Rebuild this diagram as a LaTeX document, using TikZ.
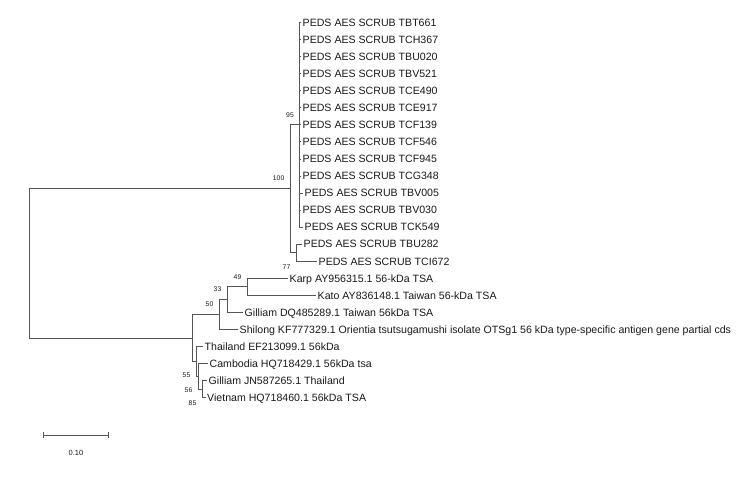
\documentclass[tikz,border=0pt]{standalone}
\usepackage{fontspec}
\setmainfont{Liberation Sans}
\usepackage{tikz}
\usetikzlibrary{arrows.meta,positioning}
\usepackage{xcolor}
\definecolor{treegray}{RGB}{85,85,85}
\definecolor{leafink} {RGB}{25,25,25}

\begin{document}
\begin{tikzpicture}[
    x=1pt,y=-1pt,
    taxon/.style={anchor=west,inner xsep=1.5pt,inner ysep=0pt,text=leafink,
                  text height=7.6pt,text depth=0pt,
                  font=\fontsize{10.6}{12}\selectfont},
    branch/.style={draw=treegray,line width=0.8pt},
    boot/.style={inner sep=0.5pt,text=leafink,font=\fontsize{6.8}{8}\selectfont},
    bootup/.style={boot,above left=7pt and 5pt of #1},
    bootdown/.style={boot,below left=11pt and 5pt of #1}
  ]
    \useasboundingbox (0,0) rectangle (750,482);
    % internal nodes
    \coordinate (root) at (29,263.3);
    \coordinate (n100) at (290,188.75);
    \coordinate (n95)  at (299.5,124.8);
    \coordinate (n77)  at (296,252.7);
    \coordinate (nbot) at (192,337.9);
    \coordinate (n50)  at (219,314.5);
    \coordinate (n33)  at (227,299.6);
    \coordinate (n49)  at (247,286.8);
    \coordinate (n55)  at (196,361.4);
    \coordinate (n56)  at (198,376.3);
    \coordinate (n85)  at (202,389.1);
    % taxa
    \node[taxon] (tbt661) at (301,22.5)   {PEDS AES SCRUB TBT661};
    \node[taxon] (tch367) at (301,39.55)  {PEDS AES SCRUB TCH367};
    \node[taxon] (tbu020) at (301,56.6)   {PEDS AES SCRUB TBU020};
    \node[taxon] (tbv521) at (301,73.65)  {PEDS AES SCRUB TBV521};
    \node[taxon] (tce490) at (301,90.7)   {PEDS AES SCRUB TCE490};
    \node[taxon] (tce917) at (301,107.75) {PEDS AES SCRUB TCE917};
    \node[taxon] (tcf139) at (301,124.8)  {PEDS AES SCRUB TCF139};
    \node[taxon] (tcf546) at (301,141.85) {PEDS AES SCRUB TCF546};
    \node[taxon] (tcf945) at (301,158.9)  {PEDS AES SCRUB TCF945};
    \node[taxon] (tcg348) at (301,175.95) {PEDS AES SCRUB TCG348};
    \node[taxon] (tbv005) at (303,193)    {PEDS AES SCRUB TBV005};
    \node[taxon] (tbv030) at (301,210.05) {PEDS AES SCRUB TBV030};
    \node[taxon] (tck549) at (303,227.1)  {PEDS AES SCRUB TCK549};
    \node[taxon] (tbu282) at (302,244.15) {PEDS AES SCRUB TBU282};
    \node[taxon] (tci672) at (317,261.2)  {PEDS AES SCRUB TCI672};
    \node[taxon] (karp)   at (288,278.25) {Karp AY956315.1 56-kDa TSA};
    \node[taxon] (kato)   at (316,295.3)  {Kato AY836148.1 Taiwan 56-kDa TSA};
    \node[taxon] (gilldq) at (243,312.35) {Gilliam DQ485289.1 Taiwan 56kDa TSA};
    \node[taxon] (shilong) at (238,329.4) {Shilong KF777329.1 Orientia tsutsugamushi isolate OTSg1 56 kDa type-specific antigen gene partial cds};
    \node[taxon] (thai)   at (203,346.45) {Thailand EF213099.1 56kDa};
    \node[taxon] (camb)   at (208,363.5)  {Cambodia HQ718429.1 56kDa tsa};
    \node[taxon] (gilljn) at (207,380.55) {Gilliam JN587265.1 Thailand};
    \node[taxon] (viet)   at (205.5,397.6) {Vietnam HQ718460.1 56kDa TSA};
    % branches
    \draw[branch] (root) |- (n100);
    \draw[branch] (root) |- (nbot);
    \draw[branch] (n100) |- (n95);
    \draw[branch] (n100) |- (n77);
    \draw[branch] (n95) |- (tbt661.west);
    \draw[branch] (n95) |- (tch367.west);
    \draw[branch] (n95) |- (tbu020.west);
    \draw[branch] (n95) |- (tbv521.west);
    \draw[branch] (n95) |- (tce490.west);
    \draw[branch] (n95) |- (tce917.west);
    \draw[branch] (n95) |- (tcf139.west);
    \draw[branch] (n95) |- (tcf546.west);
    \draw[branch] (n95) |- (tcf945.west);
    \draw[branch] (n95) |- (tcg348.west);
    \draw[branch] (n95) |- (tbv005.west);
    \draw[branch] (n95) |- (tbv030.west);
    \draw[branch] (n95) |- (tck549.west);
    \draw[branch] (n77) |- (tbu282.west);
    \draw[branch] (n77) |- (tci672.west);
    \draw[branch] (nbot) |- (n50);
    \draw[branch] (nbot) |- (n55);
    \draw[branch] (n50) |- (n33);
    \draw[branch] (n50) |- (shilong.west);
    \draw[branch] (n33) |- (n49);
    \draw[branch] (n33) |- (gilldq.west);
    \draw[branch] (n49) |- (karp.west);
    \draw[branch] (n49) |- (kato.west);
    \draw[branch] (n55) |- (thai.west);
    \draw[branch] (n55) |- (n56);
    \draw[branch] (n56) |- (camb.west);
    \draw[branch] (n56) |- (n85);
    \draw[branch] (n85) |- (gilljn.west);
    \draw[branch] (n85) |- (viet.west);
    % bootstrap values
    \node[bootup=n100] (b100) {100};
    \node[bootup=n95]  (b95)  {95};
    \node[bootdown=n77] (b77) {77};
    \node[bootup=n49]  (b49)  {49};
    \node[bootup=n33]  (b33)  {33};
    \node[bootup=n50]  (b50)  {50};
    \node[bootdown=n55] (b55) {55};
    \node[bootdown=n56] (b56) {56};
    \node[bootdown=n85] (b85) {85};
    % scale bar
    \coordinate (sbl) at (43,435);
    \coordinate (sbr) at (109,435);
    \draw[branch,{Bar[width=6pt]}-{Bar[width=6pt]}] (sbl) -- (sbr);
    \node[boot,font=\fontsize{7.5}{9}\selectfont] (sbtext) at (76,453) {0.10};
  \end{tikzpicture}
\end{document}
